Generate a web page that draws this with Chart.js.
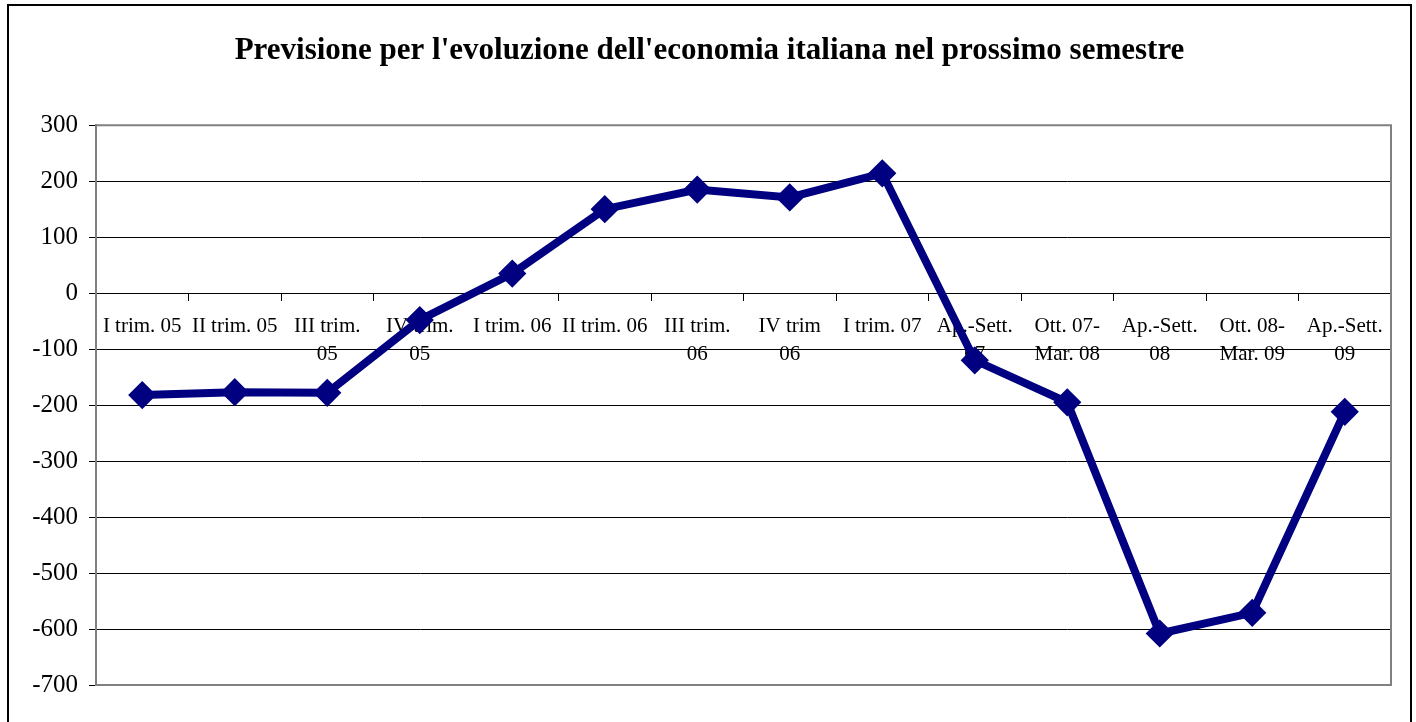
<!DOCTYPE html>
<html>
<head>
<meta charset="utf-8">
<title>Previsione per l'evoluzione dell'economia italiana</title>
<script src="https://cdn.jsdelivr.net/npm/chart.js@4/dist/chart.umd.min.js"></script>
<style>
  html, body { margin: 0; padding: 0; background: #ffffff; }
  #wrap { width: 1416px; height: 722px; position: relative; }
</style>
</head>
<body>
<div id="wrap"><canvas id="chart" width="1416" height="722"></canvas></div>
<script>
// Periods (multi-line labels as they wrap under the zero line)
const periods = [
  'I trim. 05',
  'II trim. 05',
  ['III trim.', '05'],
  ['IV trim.', '05'],
  'I trim. 06',
  'II trim. 06',
  ['III trim.', '06'],
  ['IV trim', '06'],
  'I trim. 07',
  ['Ap.-Sett.', '07'],
  ['Ott. 07-', 'Mar. 08'],
  ['Ap.-Sett.', '08'],
  ['Ott. 08-', 'Mar. 09'],
  ['Ap.-Sett.', '09']
];

// Balance of expectations for the next six months
const previsione = [-182, -177, -178, -48, 35, 150, 185, 171, 214, -120, -195, -608, -571, -212];

// Value axis
const yMin = -700;
const yMax = 300;
const yStep = 100;

const chartTitle = "Previsione per l'evoluzione dell'economia italiana nel prossimo semestre";

const serif = "'Liberation Serif', 'Times New Roman', Times, serif";
const navy = '#000080';
const frameGray = '#808080';

// White page with the outer black frame of the chart object
const pageFrame = {
  id: 'pageFrame',
  beforeDraw(chart) {
    const c = chart.ctx;
    c.save();
    c.fillStyle = '#ffffff';
    c.fillRect(0, 0, chart.width, chart.height);
    c.strokeStyle = '#000000';
    c.lineWidth = 2;
    c.strokeRect(8, 5, 1403, chart.height + 10);
    c.restore();
  }
};

// Grey frame around the plot area (top, right, bottom)
const plotFrame = {
  id: 'plotFrame',
  beforeDatasetsDraw(chart) {
    const a = chart.chartArea;
    const c = chart.ctx;
    c.save();
    c.strokeStyle = frameGray;
    c.lineWidth = 2;
    c.beginPath();
    c.moveTo(a.left, a.top);
    c.lineTo(a.right, a.top);
    c.lineTo(a.right, a.bottom);
    c.lineTo(a.left, a.bottom);
    c.stroke();
    c.restore();
  }
};

new Chart(document.getElementById('chart'), {
  type: 'line',
  data: {
    labels: periods,
    datasets: [{
      label: 'Previsione',
      data: previsione,
      borderColor: navy,
      backgroundColor: navy,
      borderWidth: 8,
      tension: 0,
      pointStyle: 'rectRot',
      pointRadius: 12,
      pointBorderWidth: 3,
      pointBackgroundColor: navy,
      pointBorderColor: navy,
      fill: false
    }]
  },
  options: {
    responsive: false,
    animation: false,
    devicePixelRatio: 1,
    layout: { padding: { left: 3, right: 0, top: 0, bottom: 37 } },
    plugins: {
      legend: { display: false },
      tooltip: { enabled: false },
      title: {
        display: true,
        text: chartTitle,
        color: '#000000',
        font: { family: serif, size: 31, weight: 'bold', lineHeight: 1.2 },
        padding: { top: 32, bottom: 56 }
      }
    },
    scales: {
      x: {
        type: 'category',
        position: { y: 0 },
        offset: true,
        grid: {
          display: true,
          drawOnChartArea: false,
          drawTicks: true,
          tickLength: 7,
          tickColor: '#000000',
          tickWidth: 1,
          offset: true
        },
        border: { display: true, color: '#000000', width: 1 },
        ticks: {
          autoSkip: false,
          maxRotation: 0,
          minRotation: 0,
          padding: 12,
          color: '#000000',
          font: { family: serif, size: 21, lineHeight: 1.33 }
        }
      },
      y: {
        min: yMin,
        max: yMax,
        afterFit(scale) { scale.width = 93; },
        grid: {
          color: (ctx) => (ctx.tick && (ctx.tick.value === yMax || ctx.tick.value === yMin)) ? frameGray : '#000000',
          lineWidth: 1,
          drawTicks: true,
          tickLength: 7,
          tickColor: '#000000'
        },
        border: { display: true, color: frameGray, width: 2 },
        ticks: {
          stepSize: yStep,
          padding: 11,
          color: '#000000',
          font: { family: serif, size: 25 }
        }
      },
      // Blank right-hand margin between the plot and the outer frame
      yMargin: {
        type: 'linear',
        position: 'right',
        min: yMin,
        max: yMax,
        afterFit(scale) { scale.width = 25; },
        grid: { display: false, drawOnChartArea: false, drawTicks: false },
        border: { display: false },
        ticks: { display: false }
      }
    }
  },
  plugins: [pageFrame, plotFrame]
});
</script>
</body>
</html>
